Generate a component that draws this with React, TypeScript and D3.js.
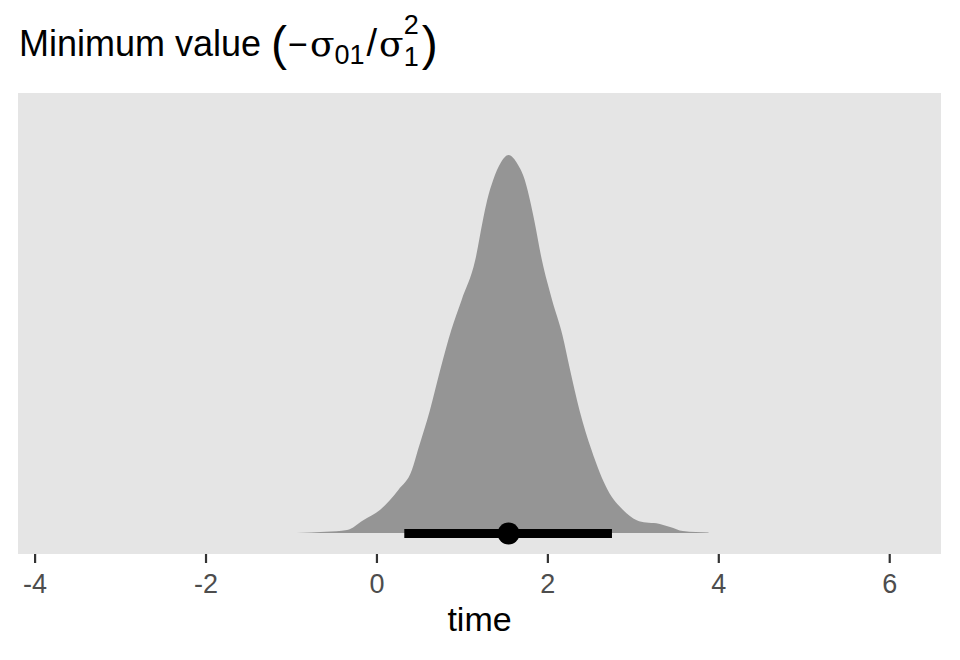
import React from "react";
import * as d3 from "d3";

const densityX = [-0.94, -0.6, -0.35, -0.16, 0.035, 0.25, 0.41, 0.48, 0.62, 0.74, 0.87, 0.99, 1.15, 1.24, 1.29, 1.36, 1.45, 1.54, 1.65, 1.73, 1.79, 1.84, 1.93, 2.05, 2.17, 2.26, 2.37, 2.51, 2.7, 2.88, 3.04, 3.15, 3.27, 3.43, 3.58, 3.88];
const densityY = [0, 0.003, 0.008, 0.034, 0.061, 0.114, 0.167, 0.22, 0.325, 0.431, 0.537, 0.616, 0.722, 0.828, 0.881, 0.934, 0.98, 1.0, 0.974, 0.934, 0.881, 0.828, 0.722, 0.616, 0.524, 0.431, 0.325, 0.22, 0.114, 0.061, 0.034, 0.028, 0.026, 0.016, 0.005, 0.001];
const pointEstimate = [1.54];
const intervalBounds = [0.32, 2.75];
const xTicks = [-4, -2, 0, 2, 4, 6];
const xTitle = "time";

export default function App() {
  const W = 960, H = 660;
  const panel = { left: 18, right: 941, top: 93, bottom: 554 };
  const x = d3.scaleLinear().domain([-4.2, 6.6]).range([panel.left, panel.right]);
  const y = d3.scaleLinear().domain([0, 1]).range([533, 155]);
  const pts = densityX.map((d, i) => [d, densityY[i]] as [number, number]);
  const area = d3.area<[number, number]>()
    .x(d => x(d[0]))
    .y0(y(0))
    .y1(d => y(d[1]))
    .curve(d3.curveMonotoneX);
  const font = "'Liberation Sans', Arial, Helvetica, sans-serif";
  const serif = "'DejaVu Serif', 'Liberation Serif', serif";
  return (
    <svg width={W} height={H} style={{ position: "absolute", left: 0, top: 0 }} fontFamily={font}>
      <rect x={0} y={0} width={W} height={H} fill="#ffffff" />
      <text x={19} y={56} fontSize={36} fill="#000">
        <tspan>Minimum value </tspan>
        <tspan fontSize={48} dy={4}>(</tspan>
        <tspan fontSize={34} dy={-4} dx={1}>−</tspan>
        <tspan fontSize={36} fontFamily={serif} dx={2}>σ</tspan>
        <tspan fontSize={27} dy={8}>01</tspan>
        <tspan fontSize={38} dy={-8} dx={2}>/</tspan>
        <tspan fontSize={36} fontFamily={serif} dx={2}>σ</tspan>
        <tspan fontSize={27} dy={-22}>2</tspan>
        <tspan fontSize={27} dy={32} dx={-15}>1</tspan>
        <tspan fontSize={48} dy={-6} dx={3}>)</tspan>
      </text>
      <rect x={panel.left} y={panel.top} width={panel.right - panel.left} height={panel.bottom - panel.top} fill="#E5E5E5" />
      <path d={area(pts) ?? ""} fill="#959595" />
      <line x1={x(intervalBounds[0])} x2={x(intervalBounds[1])} y1={533.5} y2={533.5} stroke="#000" strokeWidth={9} />
      <circle cx={x(pointEstimate[0])} cy={533.5} r={11} fill="#000" />
      {xTicks.map(t => (
        <g key={t}>
          <line x1={x(t)} x2={x(t)} y1={panel.bottom} y2={panel.bottom + 9} stroke="#333333" strokeWidth={2.2} />
          <text x={x(t)} y={593} fontSize={27} fill="#4D4D4D" textAnchor="middle">{t < 0 ? "-" + Math.abs(t) : String(t)}</text>
        </g>
      ))}
      <text x={(panel.left + panel.right) / 2} y={631} fontSize={34} fill="#000" textAnchor="middle">{xTitle}</text>
    </svg>
  );
}
